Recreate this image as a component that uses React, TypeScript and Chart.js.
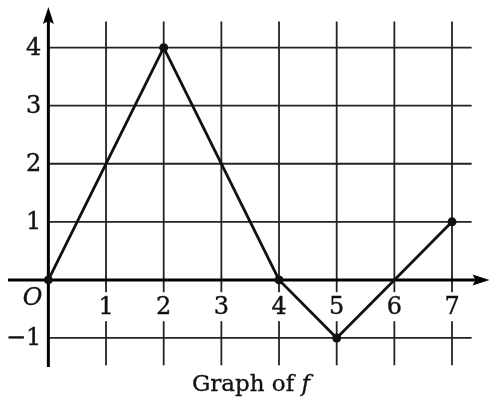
import React, { useEffect, useRef } from "react";
import { Chart, registerables } from "chart.js";

Chart.register(...registerables);

// ---- data ----
const xValues = [0, 2, 4, 5, 6, 7];
const fValues = [0, 4, 0, -1, 0, 1];
const dotShown = [true, true, true, true, false, true];
const xTickValues = [1, 2, 3, 4, 5, 6, 7];
const xTickLabels = ["1", "2", "3", "4", "5", "6", "7"];
const yTickValues = [-1, 1, 2, 3, 4];
const yTickLabels = ["\u22121", "1", "2", "3", "4"];
const originLabel = "O";
const titleText = "Graph of ";
const titleVar = "f";

const X_MIN = -0.7;
const X_MAX = 7.65;
const Y_MIN = -1.5;
const Y_MAX = 4.7;
const GRID_X_END = 7.34;
const GRID_Y_TOP = 4.45;
const GRID_Y_BOTTOM = -1.47;

const SERIF = "'DejaVu Serif', serif";

function drawText(
  ctx: CanvasRenderingContext2D,
  text: string,
  x: number,
  y: number,
  font: string,
  align: CanvasTextAlign
) {
  ctx.save();
  ctx.font = font;
  ctx.textAlign = align;
  ctx.textBaseline = "middle";
  ctx.fillText(text, x, y);
  ctx.lineWidth = 0.35;
  ctx.strokeStyle = ctx.fillStyle as string;
  ctx.strokeText(text, x, y);
  ctx.restore();
}

const graphPlugin = {
  id: "graphPaper",
  beforeDatasetsDraw(chart: any) {
    const ctx: CanvasRenderingContext2D = chart.ctx;
    const xs = chart.scales.x;
    const ys = chart.scales.y;
    const px = (v: number) => xs.getPixelForValue(v);
    const py = (v: number) => ys.getPixelForValue(v);
    ctx.save();
    // grid
    ctx.strokeStyle = "#222222";
    ctx.lineWidth = 1.8;
    for (const v of xTickValues) {
      ctx.beginPath();
      ctx.moveTo(px(v), py(GRID_Y_TOP));
      ctx.lineTo(px(v), py(GRID_Y_BOTTOM));
      ctx.stroke();
    }
    for (const v of yTickValues) {
      ctx.beginPath();
      ctx.moveTo(px(0), py(v));
      ctx.lineTo(px(GRID_X_END), py(v));
      ctx.stroke();
    }
    // x tick labels with white backing
    const tickFont = `24px ${SERIF}`;
    const labelY = py(-0.47);
    ctx.font = tickFont;
    xTickValues.forEach((v, i) => {
      const w = ctx.measureText(xTickLabels[i]).width;
      ctx.fillStyle = "#ffffff";
      ctx.fillRect(px(v) - w / 2 - 1, labelY - 15, w + 2, 29);
      ctx.fillStyle = "#111111";
      drawText(ctx, xTickLabels[i], px(v), labelY + 1, tickFont, "center");
    });
    // y tick labels
    yTickValues.forEach((v, i) => {
      ctx.fillStyle = "#111111";
      drawText(ctx, yTickLabels[i], px(0) - 7, py(v) + 1, tickFont, "right");
    });
    // origin
    ctx.fillStyle = "#111111";
    drawText(ctx, originLabel, px(0) - 6, py(-0.32), `italic 24px ${SERIF}`, "right");
    // axes
    ctx.strokeStyle = "#000000";
    ctx.fillStyle = "#000000";
    ctx.lineWidth = 3;
    const x0 = px(0);
    const y0 = py(0);
    ctx.beginPath();
    ctx.moveTo(px(X_MIN), y0);
    ctx.lineTo(px(X_MAX) - 12, y0);
    ctx.stroke();
    ctx.beginPath();
    ctx.moveTo(x0, py(Y_MIN));
    ctx.lineTo(x0, py(Y_MAX) + 12);
    ctx.stroke();
    // arrow heads
    const xt = px(X_MAX);
    ctx.beginPath();
    ctx.moveTo(xt, y0);
    ctx.lineTo(xt - 17, y0 - 5.5);
    ctx.lineTo(xt - 14, y0);
    ctx.lineTo(xt - 17, y0 + 5.5);
    ctx.closePath();
    ctx.fill();
    const yt = py(Y_MAX);
    ctx.beginPath();
    ctx.moveTo(x0, yt);
    ctx.lineTo(x0 - 5.5, yt + 17);
    ctx.lineTo(x0, yt + 14);
    ctx.lineTo(x0 + 5.5, yt + 17);
    ctx.closePath();
    ctx.fill();
    ctx.restore();
  },
  afterDraw(chart: any) {
    const ctx: CanvasRenderingContext2D = chart.ctx;
    ctx.save();
    const f1 = `23px ${SERIF}`;
    const f2 = `italic 23px ${SERIF}`;
    ctx.font = f1;
    const w1 = ctx.measureText(titleText).width;
    ctx.font = f2;
    const w2 = ctx.measureText(titleVar).width;
    const cx = 251;
    const start = cx - (w1 + w2) / 2;
    ctx.fillStyle = "#111111";
    drawText(ctx, titleText, start, 385, f1, "left");
    drawText(ctx, titleVar, start + w1, 385, f2, "left");
    ctx.restore();
  },
};

export default function App() {
  const canvasRef = useRef<HTMLCanvasElement | null>(null);

  useEffect(() => {
    document.body.style.margin = "0";
    document.body.style.background = "#ffffff";
    const canvas = canvasRef.current;
    if (!canvas) return;
    const chart = new Chart(canvas, {
      type: "line",
      data: {
        datasets: [
          {
            data: xValues.map((x, i) => ({ x, y: fValues[i] })),
            borderColor: "#111111",
            borderWidth: 2.8,
            pointRadius: dotShown.map((d) => (d ? 4.5 : 0)),
            pointBackgroundColor: "#111111",
            pointBorderColor: "#111111",
            pointBorderWidth: 0,
            tension: 0,
            fill: false,
            clip: false as any,
          },
        ],
      },
      options: {
        responsive: false,
        animation: false,
        devicePixelRatio: 1,
        layout: { padding: { left: 8, right: 1, top: 7, bottom: 35 } },
        plugins: {
          legend: { display: false },
          tooltip: { enabled: false },
          title: { display: false },
        },
        scales: {
          x: { type: "linear", min: X_MIN, max: X_MAX, display: false },
          y: { type: "linear", min: Y_MIN, max: Y_MAX, display: false },
        },
      },
      plugins: [graphPlugin],
    });
    return () => {
      chart.destroy();
    };
  }, []);

  return (
    <div style={{ width: 494, height: 402, background: "#ffffff" }}>
      <canvas ref={canvasRef} width={494} height={402} />
    </div>
  );
}
